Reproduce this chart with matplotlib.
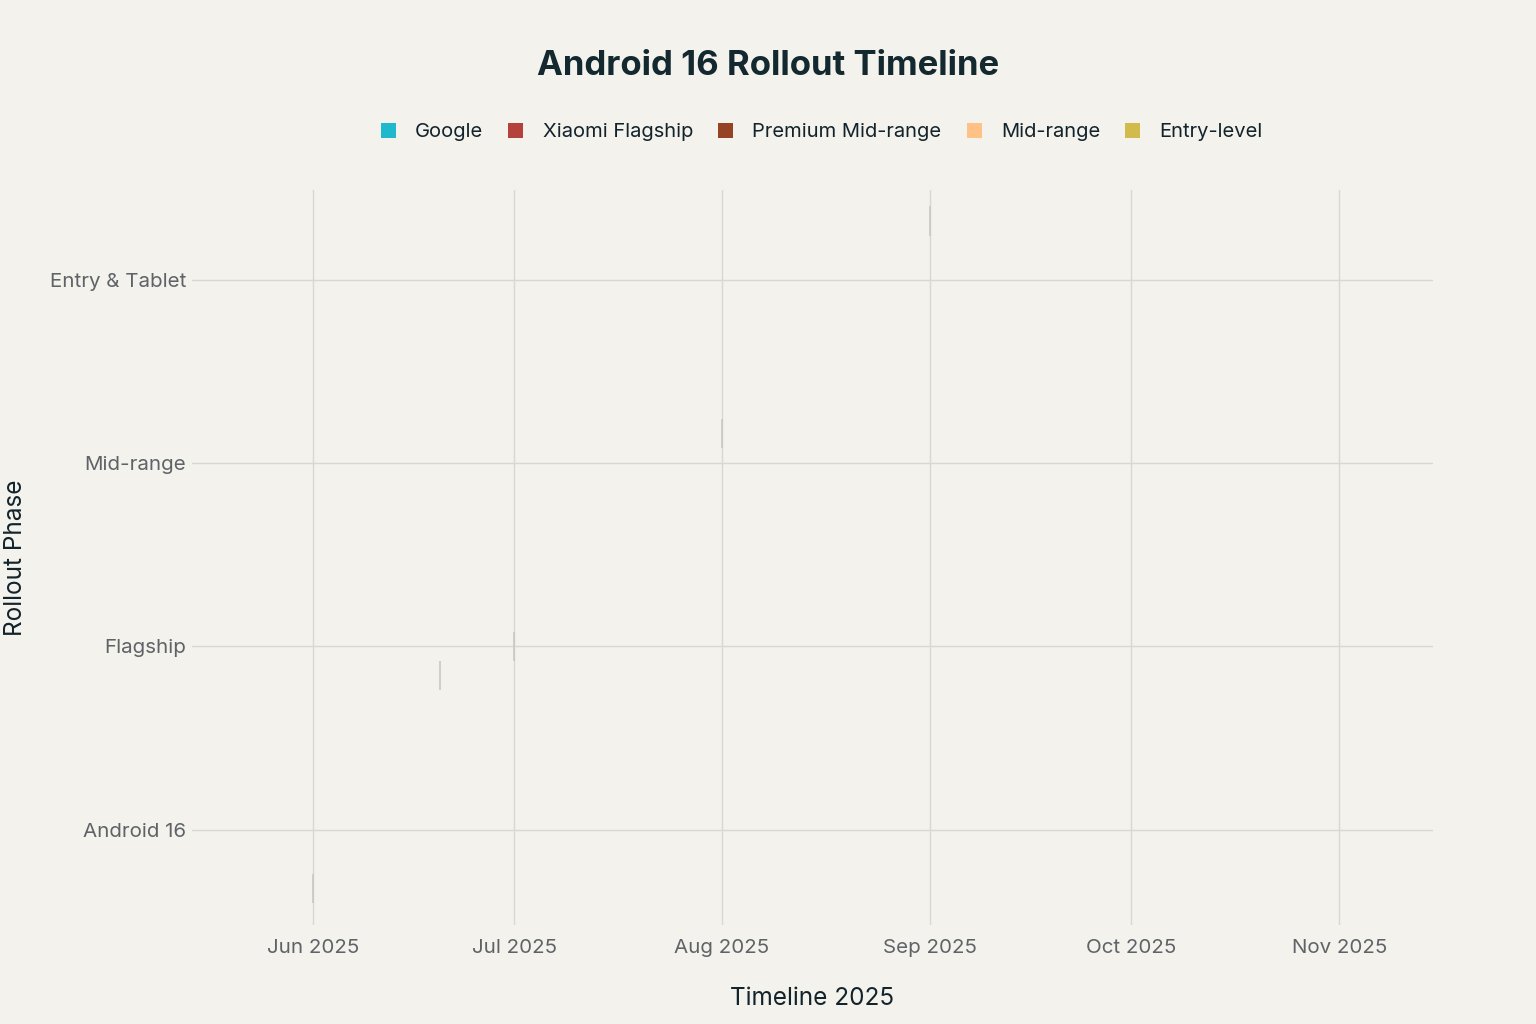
import datetime as dt

import matplotlib.dates as mdates
import matplotlib.pyplot as plt
from matplotlib.patches import Patch

plt.rcParams['font.family'] = ['Inter', 'DejaVu Sans']

phases = ['Android 16', 'Flagship', 'Mid-range', 'Entry & Tablet']
groups = ['Google', 'Xiaomi Flagship', 'Premium Mid-range', 'Mid-range', 'Entry-level']
colors = ['#1FB8CD', '#B4413C', '#964325', '#FFC185', '#D2BA4C']

# one task per group: phase, start, end (same-day events)
task_phase = ['Android 16', 'Flagship', 'Flagship', 'Mid-range', 'Entry & Tablet']
task_start = [dt.date(2025, 6, 1), dt.date(2025, 6, 20), dt.date(2025, 7, 1),
              dt.date(2025, 8, 1), dt.date(2025, 9, 1)]
task_end = [dt.date(2025, 6, 1), dt.date(2025, 6, 20), dt.date(2025, 7, 1),
            dt.date(2025, 8, 1), dt.date(2025, 9, 1)]

bg = '#F3F2EC'
fig = plt.figure(figsize=(15.36, 10.24), dpi=100, facecolor=bg)
ax = fig.add_axes([0.125, 0.0967, 0.808, 0.718], facecolor=bg)

n = len(groups)
bw = 0.8 / n
for i, g in enumerate(groups):
    y = phases.index(task_phase[i]) + (i - (n - 1) / 2) * bw
    left = mdates.date2num(task_start[i])
    width = mdates.date2num(task_end[i]) - left
    ax.barh(y, width, left=left, height=bw, color=colors[i],
            edgecolor='#C9C9C4', linewidth=1.2, zorder=3)

ax.set_xlim(mdates.date2num(dt.date(2025, 5, 14)), mdates.date2num(dt.date(2025, 11, 15)))
ax.set_ylim(-0.52, 3.49)
ax.set_yticks(range(len(phases)))
ax.set_yticklabels(phases)
ax.xaxis.set_major_locator(mdates.MonthLocator())
ax.xaxis.set_major_formatter(mdates.DateFormatter('%b %Y'))

ax.grid(True, color='#D8D8D3', linewidth=1, zorder=0)
for s in ax.spines.values():
    s.set_visible(False)
ax.tick_params(axis='both', length=0, labelsize=14.8, colors='#5F6368')
ax.tick_params(axis='y', pad=4)
ax.tick_params(axis='x', pad=10)

ax.set_xlabel('Timeline 2025', fontsize=17.5, color='#13232B', labelpad=22)
ax.set_ylabel('Rollout Phase', fontsize=17.5, color='#13232B')
ax.yaxis.set_label_coords(-0.133, 0.5)

fig.text(0.5, 0.936, 'Android 16 Rollout Timeline', ha='center', va='center',
         fontsize=25, fontweight='bold', color='#13282F')

handles = [Patch(facecolor=c, edgecolor='none') for c in colors]
fig.legend(handles, groups, loc='center', bbox_to_anchor=(0.535, 0.871), ncol=5,
           frameon=False, fontsize=14.5, handlelength=0.75, handleheight=0.75,
           handletextpad=0.95, columnspacing=1.25, labelcolor='#13232B')

fig.savefig('out.png', dpi=100, facecolor=bg)
